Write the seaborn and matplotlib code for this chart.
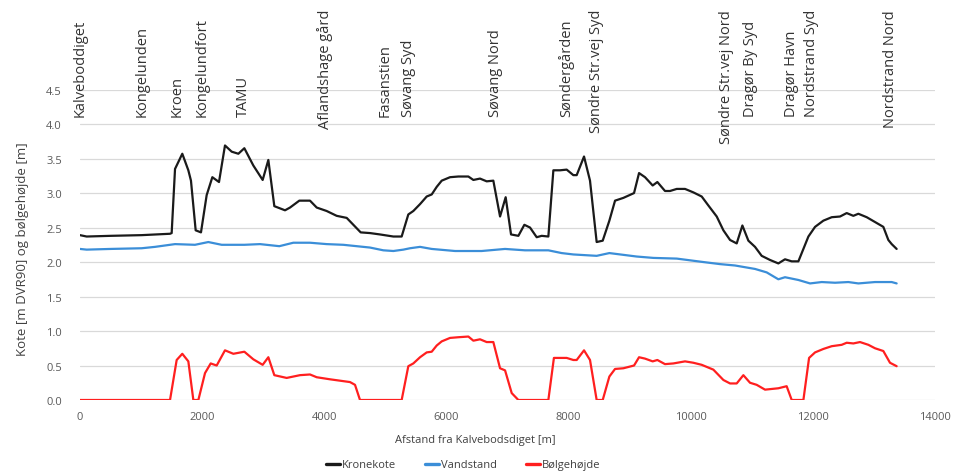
import matplotlib
matplotlib.use("Agg")
import matplotlib.pyplot as plt
import matplotlib.transforms as mtransforms
import seaborn as sns
import pandas as pd
import numpy as np

# ---------------- data ----------------
krone_x = [0, 109, 500, 1010, 1474, 1501, 1556, 1675, 1774, 1817, 1894, 1981, 2074, 2167, 2276,
           2374, 2484, 2593, 2691, 2838, 2991, 3084, 3182, 3357, 3439, 3591, 3766, 3876, 4039,
           4203, 4367, 4476, 4596, 4749, 4913, 5131, 5267, 5376, 5458, 5568, 5677, 5759, 5841,
           5923, 6059, 6195, 6359, 6441, 6550, 6659, 6768, 6878, 6970, 7058, 7178, 7276, 7369,
           7478, 7560, 7669, 7751, 7860, 7969, 8078, 8133, 8253, 8351, 8460, 8559, 8668, 8761,
           8897, 9072, 9154, 9252, 9377, 9454, 9579, 9661, 9771, 9907, 10043, 10180, 10289,
           10426, 10535, 10644, 10753, 10846, 10944, 11053, 11162, 11299, 11435, 11544, 11654,
           11763, 11845, 11927, 12036, 12172, 12309, 12445, 12554, 12663, 12745, 12882, 13018,
           13154, 13236, 13291, 13372]
krone_y = [2.39, 2.37, 2.38, 2.39, 2.41, 2.42, 3.35, 3.57, 3.33, 3.18, 2.46, 2.43, 2.97, 3.23, 3.16,
           3.69, 3.60, 3.57, 3.65, 3.40, 3.19, 3.48, 2.81, 2.75, 2.79, 2.89, 2.89, 2.79, 2.74,
           2.67, 2.64, 2.54, 2.43, 2.42, 2.40, 2.37, 2.37, 2.69, 2.74, 2.84, 2.95, 2.98, 3.09,
           3.18, 3.23, 3.24, 3.24, 3.19, 3.21, 3.17, 3.18, 2.66, 2.94, 2.40, 2.38, 2.54, 2.50,
           2.36, 2.38, 2.37, 3.33, 3.33, 3.34, 3.26, 3.26, 3.53, 3.18, 2.29, 2.31, 2.60, 2.89,
           2.93, 3.00, 3.29, 3.23, 3.11, 3.16, 3.03, 3.03, 3.06, 3.06, 3.01, 2.95, 2.82,
           2.66, 2.46, 2.32, 2.27, 2.53, 2.31, 2.22, 2.09, 2.03, 1.98, 2.04, 2.01,
           2.01, 2.19, 2.37, 2.51, 2.60, 2.65, 2.66, 2.71, 2.67, 2.70, 2.65, 2.58,
           2.51, 2.32, 2.26, 2.19]

vand_x = [0, 109, 500, 1010, 1228, 1556, 1883, 2101, 2320, 2691, 2947, 3264, 3493, 3766, 4039,
          4312, 4530, 4749, 4967, 5131, 5295, 5404, 5568, 5759, 6141, 6577, 6960, 7287, 7669,
          7887, 8078, 8460, 8668, 9115, 9388, 9771, 10207, 10480, 10726, 11053, 11244, 11435,
          11544, 11763, 11954, 12145, 12363, 12581, 12745, 13018, 13291, 13372]
vand_y = [2.19, 2.18, 2.19, 2.20, 2.22, 2.26, 2.25, 2.29, 2.25, 2.25, 2.26, 2.23, 2.28, 2.28, 2.26,
          2.25, 2.23, 2.21, 2.17, 2.16, 2.18, 2.20, 2.22, 2.19, 2.16, 2.16, 2.19, 2.17, 2.17,
          2.13, 2.11, 2.09, 2.13, 2.08, 2.06, 2.05, 2.00, 1.97, 1.95, 1.90, 1.85, 1.75,
          1.78, 1.74, 1.69, 1.71, 1.70, 1.71, 1.69, 1.71, 1.71, 1.69]

boelge_x = [0, 1474, 1583, 1675, 1774, 1856, 1938, 2047, 2140, 2238, 2374, 2511, 2691, 2838, 2991,
            3084, 3182, 3384, 3602, 3766, 3876, 4094, 4421, 4503, 4585, 5267, 5376, 5458, 5568,
            5677, 5759, 5841, 5923, 6059, 6195, 6359, 6441, 6550, 6659, 6768, 6878, 6960, 7069,
            7178, 7669, 7760, 7887, 7969, 8078, 8133, 8253, 8351, 8460, 8559, 8668, 8761, 8897,
            9072, 9154, 9252, 9377, 9454, 9579, 9716, 9907, 10043, 10180, 10371, 10535, 10644,
            10753, 10862, 10971, 11080, 11217, 11435, 11571, 11654, 11845, 11938, 12036, 12172,
            12309, 12472, 12554, 12663, 12772, 12909, 13018, 13154, 13263, 13372]
boelge_y = [0.0, 0.0, 0.58, 0.67, 0.56, 0.0, 0.0, 0.39, 0.53, 0.50, 0.72, 0.67, 0.70, 0.59, 0.51,
            0.62, 0.36, 0.32, 0.36, 0.37, 0.33, 0.30, 0.26, 0.22, 0.0, 0.0, 0.49, 0.53, 0.62,
            0.69, 0.70, 0.79, 0.85, 0.90, 0.91, 0.92, 0.86, 0.88, 0.84, 0.84, 0.46, 0.43, 0.10,
            0.0, 0.0, 0.61, 0.61, 0.61, 0.58, 0.58, 0.72, 0.58, 0.0, 0.0, 0.34, 0.45, 0.46,
            0.50, 0.62, 0.60, 0.56, 0.58, 0.52, 0.53, 0.56, 0.54, 0.51, 0.44, 0.29, 0.24,
            0.24, 0.36, 0.25, 0.22, 0.15, 0.17, 0.20, 0.0, 0.0, 0.61, 0.69, 0.74,
            0.78, 0.80, 0.83, 0.82, 0.84, 0.80, 0.75, 0.71, 0.54, 0.49]

place_names = ["Kalveboddiget", "Kongelunden", "Kroen", "Kongelundfort", "TAMU",
               "Aflandshage gård", "Fasanstien", "Søvang Syd", "Søvang Nord", "Søndergården",
               "Søndre Str.vej Syd", "Søndre Str.vej Nord", "Dragør By Syd", "Dragør Havn",
               "Nordstrand Syd", "Nordstrand Nord"]
place_x = [0, 1010, 1583, 1993, 2670, 4012, 4994, 5371, 6796, 7969, 8460, 10589, 10971,
           11654, 11981, 13264]

series_names = ["Kronekote", "Vandstand", "Bølgehøjde"]
y_ticks = [0.0, 0.5, 1.0, 1.5, 2.0, 2.5, 3.0, 3.5, 4.0, 4.5]
x_ticks = [0, 2000, 4000, 6000, 8000, 10000, 12000, 14000]

# ---------------- figure ----------------
sns.set_theme(style="white")
plt.rcParams['font.family'] = ['Open Sans', 'DejaVu Sans']

W, H = 966, 477
fig = plt.figure(figsize=(W / 100, H / 100), dpi=100)
ax = fig.add_axes([80 / W, 1 - 401 / H, 855 / W, (401 - 90.6) / H])

df = pd.concat([
    pd.DataFrame({"x": krone_x, "y": krone_y, "serie": series_names[0]}),
    pd.DataFrame({"x": vand_x, "y": vand_y, "serie": series_names[1]}),
    pd.DataFrame({"x": boelge_x, "y": boelge_y, "serie": series_names[2]}),
], ignore_index=True)

palette = {series_names[0]: "#1a1a1a", series_names[1]: "#3b8ed8", series_names[2]: "#ff1f1f"}
sns.lineplot(data=df, x="x", y="y", hue="serie", palette=palette, sort=False,
             estimator=None, linewidth=1.6, ax=ax, legend=True, zorder=3)

ax.set_xlim(0, 14000)
ax.set_ylim(0, 4.5)
ax.set_yticks(y_ticks)
ax.set_yticklabels([f"{v:.1f}" for v in y_ticks])
ax.set_xticks(x_ticks)
ax.set_xticklabels([str(v) for v in x_ticks])
ax.yaxis.grid(True, color="#d9d9d9", linewidth=0.9, zorder=0)
ax.xaxis.grid(False)
for s in ax.spines.values():
    s.set_visible(False)
ax.tick_params(axis="both", length=0, labelsize=8, colors="#595959", pad=8)
ax.tick_params(axis="y", pad=13)

ax.set_xlabel("Afstand fra Kalvebodsdiget [m]", fontsize=8, color="#404040")
ax.set_ylabel("Kote [m DVR90] og bølgehøjde [m]", fontsize=9.5, color="#404040")
ax.xaxis.set_label_coords((475 - 80) / 855, -(441 - 401) / (401 - 90.6))
ax.yaxis.set_label_coords(-(80 - 22) / 855, 0.49)
ax.xaxis.label.set_verticalalignment("center")
ax.yaxis.label.set_verticalalignment("center")

leg = ax.legend(loc="center", bbox_to_anchor=(463 / W, 1 - 466 / H),
                bbox_transform=fig.transFigure, ncol=3, frameon=False, fontsize=8,
                handlelength=1.3, handletextpad=0.15, columnspacing=2.6)
for t in leg.get_texts():
    t.set_color("#404040")
for l in leg.get_lines():
    l.set_linewidth(2.4)

# place labels at top
trans = mtransforms.blended_transform_factory(ax.transData, fig.transFigure)
texts = []
for name, xv in zip(place_names, place_x):
    t = ax.text(xv, 1 - 117 / H, name, transform=trans, rotation=90, ha="center",
                va="bottom", fontsize=10.5, color="#333333", clip_on=False)
    texts.append(t)

fig.canvas.draw()
r = fig.canvas.get_renderer()
for t in texts:
    bb = t.get_window_extent(r)
    if bb.y1 > H - 10:
        t.set_verticalalignment("top")
        t.set_y(1 - 10 / H)

fig.savefig("out.png", dpi=100)
